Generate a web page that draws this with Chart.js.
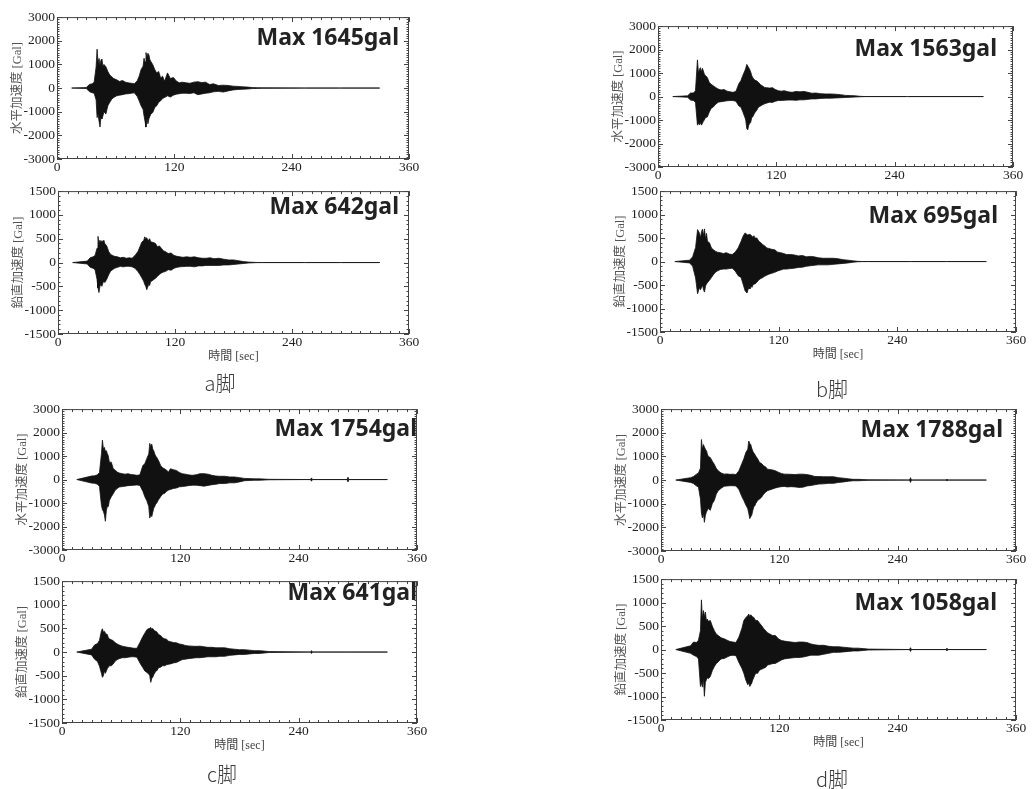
<!DOCTYPE html>
<html lang="ja">
<head>
<meta charset="utf-8">
<title>加速度波形 a〜d脚</title>
<script src="https://cdn.jsdelivr.net/npm/chart.js@4.4.1/dist/chart.umd.min.js"></script>
<style>
  html, body { margin: 0; padding: 0; background: #fff; }
  #page { position: relative; width: 1033px; height: 789px; overflow: hidden; }
  #page canvas { position: absolute; }
  .leg {
    position: absolute; transform: translate(-50%, -50%); white-space: nowrap;
    font-family: "Noto Sans CJK JP", sans-serif; font-size: 20px; font-weight: 300; color: #3a3a3a;
    opacity: 0.99; will-change: transform;
  }
</style>
</head>
<body>
<div id="page">
  <div class="leg" style="left:220px;top:382px">a脚</div>
  <div class="leg" style="left:832px;top:388px">b脚</div>
  <div class="leg" style="left:222px;top:773px">c脚</div>
  <div class="leg" style="left:832px;top:778px">d脚</div>
</div>
<script>
// ─────────────────────────────────────────────────────────────
// DATA  (envelope of each record, in Gal)
// ─────────────────────────────────────────────────────────────
const TIME = [
  15, 30, 33, 36, 38, 40,
  41, 42, 43, 44, 45, 46, 47, 48,
  50, 52, 54, 56, 58,
  61, 64, 67, 70, 73, 76, 79, 82,
  84, 86, 88,
  89, 90, 91, 92, 93, 94, 95, 96,
  98, 100, 102, 104, 106, 108, 110,
  113, 116, 119, 122, 125, 128,
  132, 136, 140, 144, 148, 152, 156, 160,
  165, 170, 175, 180, 185, 190, 195, 200, 205, 210,
  252, 253, 254,
  289, 290, 291,
  330
];

// a脚 horizontal
const A_H_UP = [
  0, 20, 150, 180, 250, 900,
  1645, 1050, 1250, 950, 1200, 1220, 900, 1000,
  900, 700, 550, 480, 400,
  350, 280, 320, 250, 220, 200, 180, 300,
  500, 780, 920,
  1260, 1100, 1500, 1300, 1470, 1400, 1200, 1125,
  985, 780, 640, 700, 430, 500, 290,
  640, 400, 450, 300, 220, 250,
  220, 200, 250, 270, 230, 250, 150, 180,
  110, 120, 110, 80, 70, 50, 40, 20, 15, 10,
  0, 0, 0,
  0, 0, 0,
  0
];
const A_H_LO = [
  0, -20, -150, -200, -220, -500,
  -1250, -1100, -1400, -1650, -1200, -1300, -1170, -1000,
  -1100, -750, -600, -470, -400,
  -330, -300, -280, -250, -240, -220, -200, -350,
  -540, -750, -900,
  -1170, -1400, -1650, -1300, -1510, -1300, -1200, -1100,
  -1030, -820, -750, -600, -540, -440, -400,
  -330, -380, -300, -260, -240, -220,
  -220, -230, -200, -280, -250, -220, -200, -160,
  -140, -170, -120, -80, -60, -50, -40, -20, -15, -10,
  0, 0, 0,
  0, 0, 0,
  0
];
// a脚 vertical
const A_V_UP = [
  0, 30, 100, 120, 150, 300,
  550, 400, 470, 420, 460, 430, 470, 400,
  350, 230, 170, 150, 130,
  120, 100, 110, 90, 100, 90, 150, 230,
  330, 430, 470,
  540, 500, 520, 480, 470, 500, 440, 430,
  420, 400, 330, 350, 300, 250, 230,
  190, 200, 150, 130, 120, 110,
  120, 110, 120, 100, 90, 90, 100, 80,
  90, 70, 55, 55, 40, 20, 10, 5, 0, 0,
  0, 0, 0,
  0, 0, 0,
  0
];
const A_V_LO = [
  0, -30, -100, -120, -150, -350,
  -530, -630, -500, -460, -500, -430, -390, -420,
  -350, -255, -180, -150, -120,
  -100, -80, -90, -80, -80, -90, -120, -190,
  -250, -320, -400,
  -460, -500, -570, -520, -460, -480, -400, -390,
  -360, -330, -290, -250, -220, -200, -190,
  -150, -160, -120, -100, -90, -85,
  -80, -80, -90, -70, -70, -60, -60, -60,
  -60, -50, -50, -40, -30, -20, -10, -5, 0, 0,
  0, 0, 0,
  0, 0, 0,
  0
];
// b脚 horizontal
const B_H_UP = [
  0, 30, 150, 150, 250, 1563,
  1000, 1150, 1230, 1050, 1200, 1090, 950, 900,
  810, 600, 520, 460, 400,
  320, 280, 300, 230, 200, 180, 220, 550,
  670, 900, 1090,
  1200, 1370, 1300, 1230, 1150, 1050, 900, 810,
  700, 670, 600, 500, 450, 390, 380,
  360, 380, 300, 250, 230, 250,
  200, 180, 220, 200, 220, 180, 140, 150,
  120, 110, 110, 100, 80, 50, 40, 30, 10, 0,
  0, 0, 0,
  0, 0, 0,
  0
];
const B_H_LO = [
  0, -30, -150, -170, -250, -1217,
  -1150, -1200, -1100, -1217, -1150, -1050, -1000, -900,
  -870, -660, -500, -450, -350,
  -240, -220, -200, -180, -170, -170, -200, -400,
  -450, -650, -870,
  -1000, -1360, -1420, -1220, -1150, -1100, -900, -870,
  -700, -590, -450, -400, -350, -310, -280,
  -240, -250, -200, -170, -170, -160,
  -150, -150, -160, -140, -140, -120, -100, -100,
  -80, -70, -70, -60, -50, -40, -30, -20, -10, 0,
  0, 0, 0,
  0, 0, 0,
  0
];
// b脚 vertical
const B_V_UP = [
  0, 30, 100, 300, 680, 600,
  500, 640, 690, 550, 695, 480, 600, 430,
  400, 290, 250, 220, 200,
  190, 170, 190, 160, 150, 200, 290, 430,
  540, 610, 575,
  560, 580, 575, 560, 540, 520, 550, 500,
  500, 430, 400, 360, 330, 290, 280,
  260, 250, 200, 190, 170, 150,
  150, 140, 120, 130, 100, 110, 100, 80,
  70, 70, 70, 60, 40, 30, 15, 5, 0, 0,
  0, 0, 0,
  0, 0, 0,
  0
];
const B_V_LO = [
  0, -30, -100, -350, -687, -550,
  -600, -550, -500, -600, -650, -520, -480, -450,
  -400, -340, -280, -230, -200,
  -170, -160, -160, -150, -140, -200, -300, -340,
  -480, -620, -670,
  -600, -550, -580, -520, -550, -500, -480, -480,
  -440, -390, -360, -340, -310, -290, -270,
  -250, -230, -200, -180, -160, -160,
  -150, -140, -125, -120, -100, -90, -80, -70,
  -70, -70, -60, -50, -40, -30, -15, -5, 0, 0,
  0, 0, 0,
  0, 0, 0,
  0
];
// c脚 horizontal
const C_H_UP = [
  0, 150, 160, 200, 300, 1100,
  1680, 1300, 1370, 1200, 1230, 1100, 1000, 740,
  740, 460, 400, 320, 280,
  250, 230, 250, 210, 200, 180, 200, 600,
  670, 900, 1090,
  1540, 1400, 1510, 1300, 1230, 1100, 1000, 950,
  800, 600, 500, 460, 400, 320, 460,
  420, 390, 300, 250, 230, 200,
  180, 200, 250, 250, 230, 180, 150, 140,
  140, 110, 110, 80, 50, 40, 30, 30, 20, 10,
  0, 70, 0,
  0, 100, 0,
  0
];
const C_H_LO = [
  0, -150, -160, -200, -300, -1100,
  -1290, -1357, -1500, -1776, -1300, -1150, -1150, -900,
  -730, -600, -450, -380, -320,
  -300, -280, -260, -250, -240, -230, -250, -500,
  -730, -900, -1150,
  -1640, -1500, -1580, -1400, -1220, -1150, -1050, -1000,
  -850, -730, -620, -590, -500, -450, -420,
  -380, -360, -310, -300, -280, -260,
  -240, -240, -260, -280, -250, -220, -200, -170,
  -170, -140, -140, -100, -50, -40, -30, -30, -20, -10,
  0, -70, 0,
  0, -100, 0,
  0
];
// c脚 vertical
const C_V_UP = [
  0, 60, 150, 180, 250, 450,
  493, 420, 440, 400, 380, 370, 300, 280,
  260, 240, 195, 170, 150,
  125, 110, 100, 90, 80, 80, 200, 330,
  400, 470, 500,
  500, 520, 480, 500, 470, 450, 440, 430,
  370, 350, 300, 280, 270, 230, 220,
  200, 195, 170, 160, 140, 130,
  125, 120, 125, 110, 100, 100, 90, 90,
  90, 70, 60, 50, 50, 40, 30, 30, 20, 10,
  0, 30, 0,
  0, 0, 0,
  0
];
const C_V_LO = [
  0, -60, -150, -200, -300, -450,
  -535, -500, -400, -450, -400, -350, -320, -290,
  -290, -250, -190, -160, -140,
  -120, -120, -110, -100, -100, -110, -230, -330,
  -400, -430, -465,
  -500, -641, -560, -535, -480, -450, -400, -400,
  -330, -320, -290, -290, -270, -260, -250,
  -230, -220, -190, -160, -150, -140,
  -130, -120, -120, -110, -100, -100, -100, -90,
  -90, -70, -60, -50, -50, -40, -30, -30, -20, -10,
  0, -30, 0,
  0, 0, 0,
  0
];
// d脚 horizontal
const D_H_UP = [
  0, 100, 150, 250, 300, 500,
  1715, 1300, 1500, 1400, 1300, 1250, 1100, 1000,
  950, 800, 670, 500, 390,
  300, 250, 260, 240, 250, 230, 390, 700,
  900, 1160, 1300,
  1650, 1550, 1500, 1350, 1230, 1150, 1100, 1020,
  900, 740, 700, 600, 560, 460, 450,
  430, 390, 330, 280, 250, 250,
  240, 230, 250, 250, 230, 200, 150, 150,
  140, 140, 140, 100, 80, 50, 30, 30, 20, 10,
  0, 100, 0,
  0, 40, 0,
  0
];
const D_H_LO = [
  0, -100, -150, -250, -300, -800,
  -1400, -1600, -1400, -1788, -1500, -1350, -1280, -1200,
  -1280, -1000, -865, -600, -450,
  -350, -260, -250, -240, -240, -250, -400, -700,
  -865, -1050, -1210,
  -1400, -1630, -1550, -1490, -1300, -1140, -1100, -1000,
  -865, -800, -725, -600, -520, -450, -420,
  -380, -335, -300, -280, -270, -290,
  -280, -290, -310, -300, -250, -230, -200, -170,
  -160, -140, -140, -100, -80, -50, -30, -30, -20, -10,
  0, -100, 0,
  0, -40, 0,
  0
];
// d脚 vertical
const D_V_UP = [
  0, 80, 160, 150, 200, 400,
  1058, 650, 830, 700, 800, 620, 650, 600,
  617, 500, 405, 330, 300,
  250, 230, 200, 170, 160, 150, 265, 450,
  617, 680, 720,
  757, 700, 740, 720, 690, 687, 650, 620,
  617, 560, 510, 450, 405, 360, 335,
  300, 300, 230, 195, 180, 170,
  160, 150, 160, 160, 150, 120, 100, 90,
  90, 70, 60, 60, 50, 40, 30, 30, 20, 10,
  0, 40, 0,
  0, 30, 0,
  0
];
const D_V_LO = [
  0, -80, -120, -150, -200, -785,
  -700, -800, -600, -995, -700, -645, -600, -620,
  -575, -450, -365, -300, -260,
  -200, -190, -160, -130, -120, -130, -275, -400,
  -505, -650, -750,
  -700, -785, -750, -715, -650, -600, -550, -505,
  -505, -435, -420, -400, -380, -330, -320,
  -300, -295, -260, -225, -200, -190,
  -180, -170, -170, -160, -140, -120, -120, -120,
  -100, -80, -60, -60, -50, -40, -30, -30, -20, -10,
  0, -40, 0,
  0, -30, 0,
  0
];

const MAX_TEXT = ["Max 1645gal", "Max 642gal", "Max 1563gal", "Max 695gal",
                  "Max 1754gal", "Max 641gal", "Max 1788gal", "Max 1058gal"];
const X_TICKS = { min: 0, max: 360, step: 120, minor: 10 };
const H_RANGE = 3000, H_STEP = 1000;   // 水平
const V_RANGE = 1500, V_STEP = 500;    // 鉛直
const Y_MINOR = 100;

// ─────────────────────────────────────────────────────────────
// LAYOUT (plot box of each panel, in page pixels)
// ─────────────────────────────────────────────────────────────
const PANELS = [
  { up: A_H_UP, lo: A_H_LO, box: [57, 15, 409, 159],   kind: "h", max: MAX_TEXT[0], mdx: 10, mdy: 28 },
  { up: A_V_UP, lo: A_V_LO, box: [58, 189, 409, 334],  kind: "v", max: MAX_TEXT[1], mdx: 10, mdy: 23 },
  { up: B_H_UP, lo: B_H_LO, box: [658, 24, 1013, 167], kind: "h", max: MAX_TEXT[2], mdx: 16, mdy: 30 },
  { up: B_V_UP, lo: B_V_LO, box: [660, 189, 1016, 332],kind: "v", max: MAX_TEXT[3], mdx: 18, mdy: 32 },
  { up: C_H_UP, lo: C_H_LO, box: [62, 407, 417, 550],  kind: "h", max: MAX_TEXT[4], mdx: 0,  mdy: 27 },
  { up: C_V_UP, lo: C_V_LO, box: [62, 579, 417, 723],  kind: "v", max: MAX_TEXT[5], mdx: 0,  mdy: 19 },
  { up: D_H_UP, lo: D_H_LO, box: [661, 407, 1016, 551],kind: "h", max: MAX_TEXT[6], mdx: 13, mdy: 28 },
  { up: D_V_UP, lo: D_V_LO, box: [661, 577, 1016, 720],kind: "v", max: MAX_TEXT[7], mdx: 19, mdy: 31 },
];

const SERIF = '"Liberation Serif", "Times New Roman", serif';
const MIXED = '"Liberation Serif", "Noto Sans CJK JP", serif';
const INK = "#111";
const FRAME = "#444";

// frame + inward tick marks on all four sides
const frameTicks = {
  id: "frameTicks",
  afterDraw(chart, args, opts) {
    const { ctx, chartArea: a, scales } = chart;
    const xs = scales.x, ys = scales.y;
    ctx.save();
    ctx.strokeStyle = FRAME;
    ctx.lineWidth = 1;
    ctx.strokeRect(a.left + 0.5, a.top + 0.5, a.right - a.left - 1, a.bottom - a.top - 1);
    ctx.beginPath();
    for (let v = X_TICKS.min; v <= X_TICKS.max; v += X_TICKS.minor) {
      const px = Math.round(xs.getPixelForValue(v)) + 0.5;
      const len = v % X_TICKS.step === 0 ? 5 : 3;
      ctx.moveTo(px, a.bottom); ctx.lineTo(px, a.bottom - len);
      ctx.moveTo(px, a.top);    ctx.lineTo(px, a.top + len);
    }
    for (let v = -opts.range; v <= opts.range; v += Y_MINOR) {
      const py = Math.round(ys.getPixelForValue(v)) + 0.5;
      const len = v % opts.step === 0 ? 5 : 2.5;
      ctx.moveTo(a.left, py);  ctx.lineTo(a.left + len, py);
      ctx.moveTo(a.right, py); ctx.lineTo(a.right - len, py);
    }
    ctx.stroke();
    ctx.restore();
  }
};

// "Max ...gal" caption in the upper right corner
const maxLabel = {
  id: "maxLabel",
  afterDraw(chart, args, opts) {
    const { ctx, chartArea: a } = chart;
    ctx.save();
    ctx.font = 'bold 23px "Noto Sans", "Open Sans", sans-serif';
    ctx.fillStyle = "#222";
    ctx.textAlign = "right";
    ctx.textBaseline = "alphabetic";
    ctx.fillText(opts.text, a.right - opts.dx, a.top + opts.dy);
    ctx.restore();
  }
};

function makePanel(p) {
  const page = document.getElementById("page");
  const [l, t, r, b] = p.box;
  const vert = p.kind === "v";
  const range = vert ? V_RANGE : H_RANGE;
  const step = vert ? V_STEP : H_STEP;
  const YW = 57, TP = 8, RP = 14, XH = vert ? 34 : 20;
  const w = r - l + YW + RP, h = b - t + TP + XH;

  const cv = document.createElement("canvas");
  cv.width = w; cv.height = h;
  cv.style.left = (l - YW) + "px";
  cv.style.top = (t - TP) + "px";
  cv.style.width = w + "px";
  cv.style.height = h + "px";
  page.appendChild(cv);

  new Chart(cv, {
    type: "line",
    data: {
      datasets: [
        { data: TIME.map((x, i) => ({ x, y: p.up[i] })), borderColor: INK, backgroundColor: INK,
          borderWidth: 0.8, pointRadius: 0, tension: 0, fill: "+1" },
        { data: TIME.map((x, i) => ({ x, y: p.lo[i] })), borderColor: INK,
          borderWidth: 0.8, pointRadius: 0, tension: 0, fill: false },
      ]
    },
    options: {
      responsive: false,
      animation: false,
      events: [],
      layout: { padding: { top: TP, right: RP, left: 0, bottom: 0 } },
      plugins: {
        legend: { display: false },
        tooltip: { enabled: false },
        frameTicks: { range, step },
        maxLabel: { text: p.max, dx: p.mdx, dy: p.mdy },
      },
      scales: {
        x: {
          type: "linear", min: X_TICKS.min, max: X_TICKS.max,
          grid: { display: false, drawTicks: false }, border: { display: false },
          ticks: { stepSize: X_TICKS.step, padding: 0, autoSkip: false, maxRotation: 0,
                   color: "#222", font: { family: SERIF, size: 13.5 }, callback: v => String(v) },
          title: { display: vert, text: "時間 [sec]", color: "#444",
                   font: { family: MIXED, size: 12 }, padding: { top: 0, bottom: 4 } },
          afterFit: s => { s.height = XH; }
        },
        y: {
          type: "linear", min: -range, max: range,
          grid: { display: false, drawTicks: false }, border: { display: false },
          ticks: { stepSize: step, padding: 2, autoSkip: false,
                   color: "#222", font: { family: SERIF, size: 13.5 }, callback: v => String(v) },
          title: { display: true, text: vert ? "鉛直加速度 [Gal]" : "水平加速度 [Gal]", color: "#555",
                   font: { family: MIXED, size: 12.5 }, padding: { top: 10, bottom: 0 } },
          afterFit: s => { s.width = YW; }
        }
      }
    },
    plugins: [frameTicks, maxLabel]
  });
}

PANELS.forEach(p => {
  if (p.up.length !== TIME.length || p.lo.length !== TIME.length) {
    console.warn("length mismatch", p.max, p.up.length, p.lo.length, TIME.length);
  }
  makePanel(p);
});
</script>
</body>
</html>
